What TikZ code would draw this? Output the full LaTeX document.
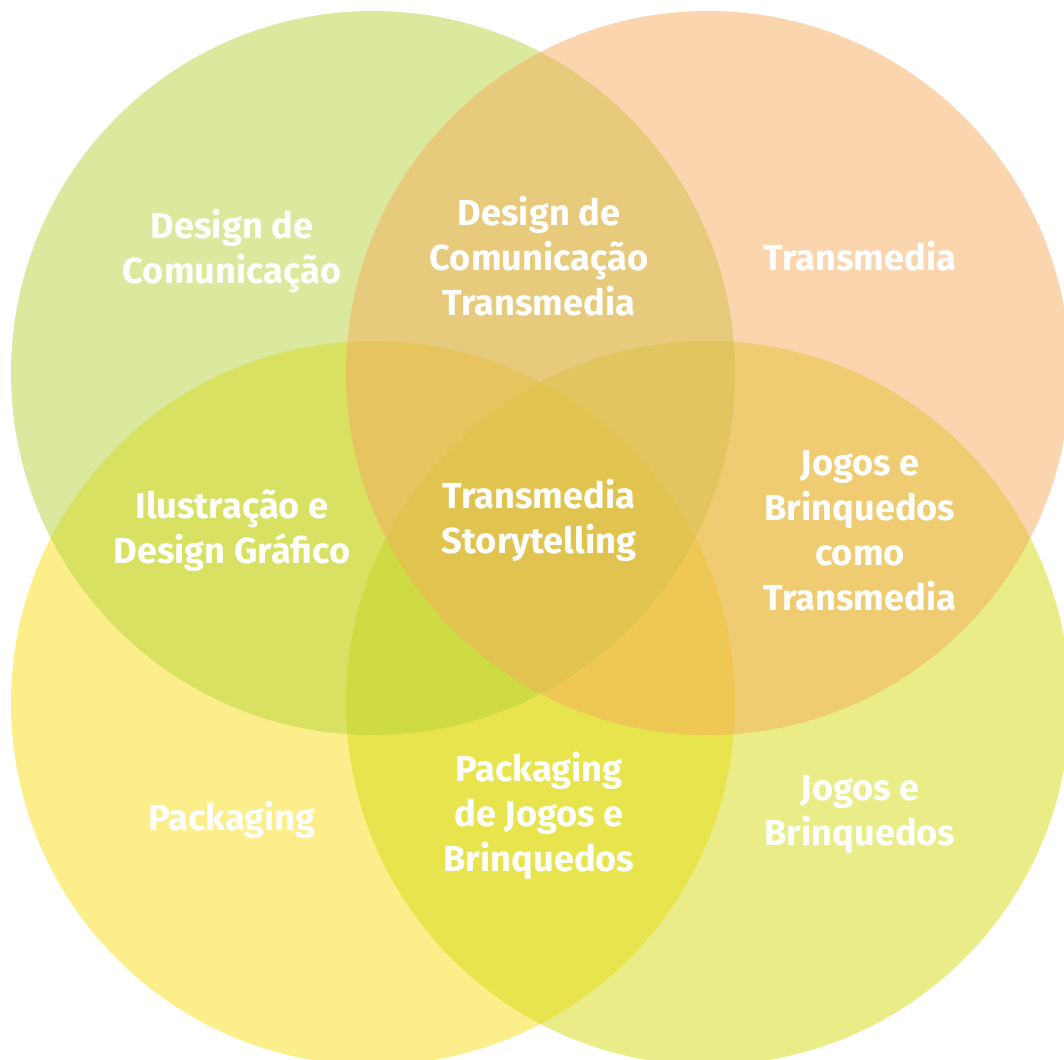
\documentclass[tikz,border=0pt]{standalone}
\usepackage{fontspec}
\setmainfont{Fira Sans}
\usepackage{tikz}
\definecolor{circgreen}{HTML}{B5D33B}
\definecolor{circpeach}{HTML}{F5AB5D}
\definecolor{circyellow}{HTML}{F9DF17}
\definecolor{circlime}{HTML}{D5D911}
\tikzset{area/.style={circle, minimum size=14.48cm, inner sep=0pt, fill=#1, fill opacity=0.5},
	label/.style={align=center, text=white, inner sep=0pt,
		font=\fontsize{20.6}{25.6}\selectfont\bfseries},
}

\begin{document}
\begin{tikzpicture}
		\path [use as bounding box] (0,0) rectangle (21.28,-21.18);
		% the four fields, drawn bottom row first
		\node[area=circyellow] (pack) at (7.46,-14.06) {};
		\node[area=circlime] (jogos) at (14.16,-14.06) {};
		\node[area=circgreen] (design) at (7.46,-7.46) {};
		\node[area=circpeach] (trans) at (14.16,-7.46) {};
		% labels
		\node[label] (l1) at (4.64,-5.03) {Design de\\Comunicação};
		\node[label] (l2) at (10.78,-5.12) {Design de\\Comunicação\\Transmedia};
		\node[label] (l3) at (17.2,-5.12) {Transmedia};
		\node[label] (l4) at (4.64,-10.61) {Ilustração e\\Design Gráfico};
		\node[label] (l5) at (10.78,-10.4) {Transmedia\\Storytelling};
		\node[label] (l6) at (17.2,-10.61) {Jogos e\\Brinquedos\\como\\Transmedia};
		\node[label] (l7) at (4.64,-16.4) {Packaging};
		\node[label] (l8) at (10.78,-16.32) {Packaging\\de Jogos e\\Brinquedos};
		\node[label] (l9) at (17.2,-16.29) {Jogos e\\Brinquedos};
	\end{tikzpicture}
\end{document}
